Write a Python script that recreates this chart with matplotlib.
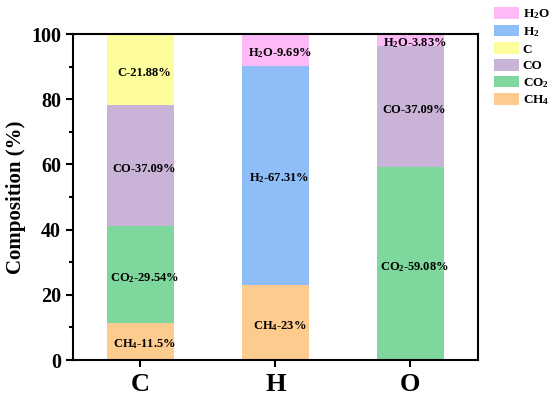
import matplotlib
matplotlib.use("Agg")
import matplotlib.pyplot as plt
import numpy as np
from matplotlib.ticker import MultipleLocator

plt.rcParams['font.family'] = 'Liberation Serif'
plt.rcParams['font.weight'] = 'bold'
plt.rcParams['mathtext.fontset'] = 'custom'
plt.rcParams['mathtext.rm'] = 'Liberation Serif:bold'
plt.rcParams['mathtext.it'] = 'Liberation Serif:bold'
plt.rcParams['mathtext.bf'] = 'Liberation Serif:bold'

categories = ['C', 'H', 'O']
series_names = ['CH$_4$', 'CO$_2$', 'CO', 'C', 'H$_2$', 'H$_2$O']
ch4 = [11.5, 23, 0]
co2 = [29.54, 0, 59.08]
co = [37.09, 0, 37.09]
c = [21.88, 0, 0]
h2 = [0, 67.31, 0]
h2o = [0, 9.69, 3.83]
label_text = {
    0: ['CH$_4$-11.5%', 'CH$_4$-23%', None],
    1: ['CO$_2$-29.54%', None, 'CO$_2$-59.08%'],
    2: ['CO-37.09%', None, 'CO-37.09%'],
    3: ['C-21.88%', None, None],
    4: [None, 'H$_2$-67.31%', None],
    5: [None, 'H$_2$O-9.69%', 'H$_2$O-3.83%'],
}
colors = ['#FDCB8E', '#7ED79C', '#C9B4D7', '#FDFD9B', '#8FBDF7', '#FDBAF7']

series = [ch4, co2, co, c, h2, h2o]

fig = plt.figure(figsize=(5.5, 3.95), dpi=100)
ax = fig.add_axes([0.1327, 0.0886, 0.736, 0.8253])
x = np.arange(1, len(categories) + 1)
bottom = np.zeros(len(categories))
handles = []
for i, vals in enumerate(series):
    vals = np.array(vals, dtype=float)
    b = ax.bar(x, vals, width=0.5, bottom=bottom, color=colors[i], label=series_names[i])
    handles.append(b)
    for j in range(len(categories)):
        t = label_text[i][j]
        if t is not None:
            ax.text(x[j] + 0.03, bottom[j] + vals[j] / 2 - 1.0, t, ha='center', va='center',
                    fontsize=9, fontweight='bold')
    bottom += vals

ax.set_xlim(0.5, 3.5)
ax.set_ylim(0, 100)
ax.set_xticks(x)
ax.set_xticklabels(categories, fontsize=19, fontweight='bold')
ax.yaxis.set_major_locator(MultipleLocator(20))
ax.yaxis.set_minor_locator(MultipleLocator(10))
ax.tick_params(axis='y', which='major', labelsize=14.5, direction='out', length=5, width=1.5)
ax.tick_params(axis='y', which='minor', direction='out', length=3, width=1.5)
ax.tick_params(axis='x', which='major', direction='out', length=5, width=1.5, pad=4)
for lab in ax.get_yticklabels():
    lab.set_fontweight('bold')
for s in ax.spines.values():
    s.set_linewidth(1.5)
ax.set_ylabel('Composition (%)', fontsize=15, fontweight='bold', labelpad=4)

leg = fig.legend(handles[::-1], series_names[::-1], loc='upper left',
                 bbox_to_anchor=(0.876, 1.012), frameon=False, fontsize=9.5,
                 handlelength=1.9, handleheight=1.0, handletextpad=0.3,
                 labelspacing=0.25, borderpad=0.4)

fig.savefig('out.png', dpi=100)
